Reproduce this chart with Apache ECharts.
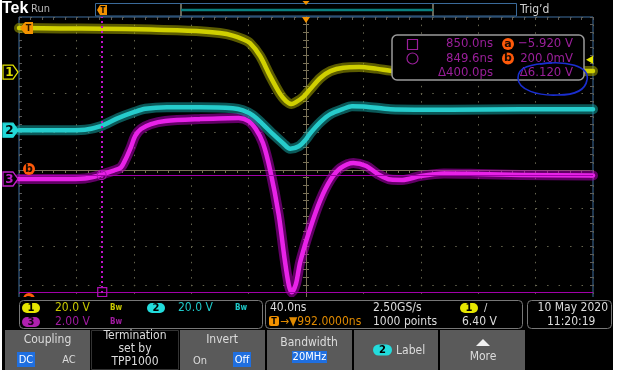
<!DOCTYPE html>
<html><head><meta charset="utf-8">
<script src="https://cdn.jsdelivr.net/npm/echarts@6/dist/echarts.min.js"></script>
<style>html,body{margin:0;padding:0;background:#fff;}#c{width:619px;height:375px;}</style>
</head><body><div id="c"></div>
<script>
// ---------------- data ----------------
const horizPosNs = 992;            // horizontal position at screen centre (ns)
const timePerDivNs = 40;           // 40.0 ns/div
const chScale = [20, 20, 2];       // V/div for channels 1,2,3
const chPos = [2.56, 1.04, -0.235];// channel ground markers (divisions from centre)

const ch1Times = [792,821,849,884,918,932,941,948,953,960,967,974,978,982,985,990,995,1002,1009,1018,1029,1041,1054,1093,1142,1192];
const ch1Volts = [23.0,22.8,22.7,22.2,21.4,20.4,19.1,17.2,15.1,8.4,-2.1,-11.5,-15.1,-16.7,-15.7,-13.1,-8.9,-3.1,0.5,2.3,2.6,1.8,0.5,0.3,0.5,0.5];

const ch2Times = [792,821,838,849,861,872,880,895,918,941,948,955,962,969,976,981,987,992,995,1002,1009,1018,1024,1034,1051,1093,1142,1192];
const ch2Volts = [0,0,0.3,2.1,6.3,9.4,11.2,12.0,12.0,11.5,10.4,7.8,3.1,-2.1,-6.8,-9.7,-8.4,-4.7,-1.6,4.2,8.4,11.2,12.5,12.3,11.0,10.7,11.0,11.0];

const ch3Times = [792,821,838,845,852,858,863,866,870,873,877,884,894,918,945,952,957,962,967,973,977,980,982,985,988,995,1002,1009,1016,1025,1034,1042,1051,1059,1072,1088,1112,1142,1192];
const ch3Volts = [0,0,0.03,0.13,0.29,0.44,0.60,0.99,1.67,2.25,2.61,2.87,3.03,3.13,3.19,3.03,2.61,1.88,0.47,-1.88,-4.13,-5.54,-5.92,-5.48,-4.33,-2.56,-1.10,-0.05,0.57,0.84,0.68,0.26,-0.03,-0.05,0.16,0.29,0.26,0.21,0.18];

const cursorTimesNs = [850.0, 849.6];   // square, circle
const cursorVolts = [-5.920, 0.200];    // a, b (channel 3)
const triggerLevelV = 6.40;             // channel 1

const cursorTimeTexts = ['850.0ns', '849.6ns', '\u0394400.0ps'];
const cursorVoltTexts = ['\u22125.920 V', '200.0mV', '\u03946.120 V'];
const chanScaleTexts = ['20.0 V', '20.0 V', '2.00 V'];
const acqTexts = ['40.0ns', '\u2192\u25BC992.0000ns', '2.50GS/s', '1000 points', '6.40 V'];
const dateTexts = ['10 May 2020', '11:20:19'];
const menuTexts = ['Coupling', 'DC', 'AC', 'Termination', 'set by', 'TPP1000', 'Invert', 'On', 'Off', 'Bandwidth', '20MHz', 'Label', 'More'];

// ---------------- chart ----------------
const FONT = "'Liberation Sans Narrow','DejaVu Sans Condensed','Liberation Sans',sans-serif";
const chart = echarts.init(document.getElementById('c'), null, {renderer: 'canvas'});

function toDiv(times, volts, ch) {
  return times.map((t, i) => [t - horizPosNs, chPos[ch] + volts[i] / chScale[ch]]);
}
const d1 = toDiv(ch1Times, ch1Volts, 0);
const d2 = toDiv(ch2Times, ch2Volts, 1);
const d3 = toDiv(ch3Times, ch3Volts, 2);
const xHalf = timePerDivNs * 5;
const aDiv = chPos[2] + cursorVolts[0] / chScale[2];
const bDiv = chPos[2] + cursorVolts[1] / chScale[2];
const trigDiv = chPos[0] + triggerLevelV / chScale[0];

const TAN = '#7a7258', EDGE = '#5c5c5c';
function xAx(extra) {
  return Object.assign({type: 'value', min: -xHalf, max: xHalf, interval: timePerDivNs,
    axisLabel: {show: false}, splitLine: {show: false}}, extra);
}
function yAx(extra) {
  return Object.assign({type: 'value', min: -4, max: 4, interval: 1,
    axisLabel: {show: false}, splitLine: {show: false}}, extra);
}
const tick = (c, inside) => ({show: true, inside: inside, length: 3, lineStyle: {color: c}});
const mtick = (c) => ({show: true, splitNumber: 5, length: 3, lineStyle: {color: c}});

function lineSeries(data, color, width, opacity, extra) {
  return Object.assign({type: 'line', data: data, smooth: 0.3, showSymbol: false, silent: true,
    xAxisIndex: 0, yAxisIndex: 0,
    lineStyle: {color: color, width: width, opacity: opacity, cap: 'round', join: 'round'}}, extra || {});
}

chart.setOption({
  animation: false,
  backgroundColor: '#000',
  grid: {left: 19, top: 17, width: 574, height: 306, show: true, borderColor: '#3f6f9f', borderWidth: 1, backgroundColor: '#000'},
  xAxis: [
    xAx({position: 'top', axisLine: {show: false, onZero: false}, axisTick: tick(EDGE, true), minorTick: mtick(EDGE),
         splitLine: {show: true, lineStyle: {color: '#66654f', type: [1.5, 6.15], width: 1}}}),
    xAx({position: 'bottom', axisLine: {show: true, onZero: true, onZeroAxisIndex: 0, lineStyle: {color: TAN}}, axisTick: tick(TAN, false), minorTick: mtick(TAN)}),
    xAx({position: 'bottom', axisLine: {show: true, onZero: true, onZeroAxisIndex: 1, lineStyle: {color: TAN}}, axisTick: tick(TAN, false), minorTick: mtick(TAN)})
  ],
  yAxis: [
    yAx({position: 'left', axisLine: {show: false, onZero: false}, axisTick: tick(EDGE, true), minorTick: mtick(EDGE),
         splitLine: {show: true, lineStyle: {color: '#66654f', type: [1.5, 9.98], width: 1}}}),
    yAx({position: 'right', axisLine: {show: false, onZero: false}, axisTick: tick(EDGE, true), minorTick: mtick(EDGE)}),
    yAx({position: 'left', axisLine: {show: true, onZero: true, onZeroAxisIndex: 1, lineStyle: {color: TAN}}, axisTick: tick(TAN, false), minorTick: mtick(TAN)}),
    yAx({position: 'right', axisLine: {show: true, onZero: true, onZeroAxisIndex: 2, lineStyle: {color: TAN}}, axisTick: tick(TAN, false), minorTick: mtick(TAN)})
  ],
  series: [
    lineSeries(d3, '#b000b8', 10, 0.55),
    lineSeries(d3, '#e822e8', 4.5, 1, {
      markLine: {silent: true, symbol: 'none', label: {show: false},
        data: [
          {yAxis: aDiv, lineStyle: {color: '#a000a8', width: 1, type: 'solid'}},
          {yAxis: bDiv, lineStyle: {color: '#a000a8', width: 1, type: 'solid'}},
          {xAxis: cursorTimesNs[0] - horizPosNs, lineStyle: {color: '#c010c8', width: 2, type: [2, 3]}},
          {xAxis: cursorTimesNs[1] - horizPosNs, lineStyle: {color: '#c010c8', width: 2, type: [2, 3]}}
        ]},
      markPoint: {silent: true, label: {show: false},
        data: [
          {coord: [cursorTimesNs[0] - horizPosNs, aDiv], symbol: 'rect', symbolSize: 9, itemStyle: {color: 'transparent', borderColor: '#b010b8', borderWidth: 1.2}},
          {coord: [cursorTimesNs[1] - horizPosNs, bDiv], symbol: 'circle', symbolSize: 9, itemStyle: {color: 'transparent', borderColor: '#b010b8', borderWidth: 1.2}}
        ]}
    }),
    lineSeries(d2, '#14a0a0', 10, 0.55),
    lineSeries(d2, '#26cccc', 4.5, 1),
    lineSeries(d1, '#a8a800', 10, 0.55),
    lineSeries(d1, '#d0d000', 4.5, 1)
  ]
});

// ---------------- scope chrome (graphic) ----------------
const G = [];
const Z = 100;
function T(text, x, y, fill, size, opt) {
  opt = opt || {};
  const al = opt.align || 'left';
  G.push({type: 'text', z: Z, x: x, y: y, silent: true,
    style: {text: text, fill: fill, font: (opt.bold ? 'bold ' : '') + size + 'px ' + (opt.font || FONT),
      align: al, verticalAlign: 'middle', textAlign: al, textVerticalAlign: 'middle'}});
}
function R(x, y, w, h, fill, stroke, r, lw) {
  G.push({type: 'rect', z: Z, silent: true, shape: {x: x, y: y, width: w, height: h, r: r || 0},
    style: {fill: fill || 'none', stroke: stroke || 'none', lineWidth: lw || 1}});
}
function C(cx, cy, r, fill, stroke, lw) {
  G.push({type: 'circle', z: Z, silent: true, shape: {cx: cx, cy: cy, r: r},
    style: {fill: fill || 'none', stroke: stroke || 'none', lineWidth: lw || 1}});
}
function P(points, fill, stroke, lw) {
  G.push({type: 'polygon', z: Z, silent: true, shape: {points: points},
    style: {fill: fill || 'none', stroke: stroke || 'none', lineWidth: lw || 1}});
}
function L(x1, y1, x2, y2, stroke, lw) {
  G.push({type: 'line', z: Z, silent: true, shape: {x1: x1, y1: y1, x2: x2, y2: y2},
    style: {stroke: stroke, lineWidth: lw || 1}});
}
function B(p, stroke, lw) {
  G.push({type: 'bezierCurve', z: Z, silent: true,
    shape: {x1: p[0], y1: p[1], cpx1: p[2], cpy1: p[3], cpx2: p[4], cpy2: p[5], x2: p[6], y2: p[7]},
    style: {stroke: stroke, lineWidth: lw || 1, fill: 'none'}});
}
function pill(x, y, w, h, fill, label, txt) {
  R(x, y, w, h, fill, null, h / 2);
  T(label, x + w / 2, y + h / 2 + 0.5, txt, 10, {bold: true, align: 'center', font: "'DejaVu Sans',sans-serif"});
}
function tag(y, color, label, filled) {
  P([[3, y - 7], [13, y - 7], [18, y], [13, y + 7], [3, y + 7]], filled ? color : '#000', color, 1.3);
  T(label, 9.5, y + 0.5, filled ? '#000' : color, 12, {bold: true, align: 'center', font: "'DejaVu Sans',sans-serif"});
}
function badge(cx, cy, letter) {
  C(cx, cy, 6, '#ff5a0a');
  T(letter, cx, cy, '#1a0a00', 11, {bold: true, align: 'center', font: "'DejaVu Sans',sans-serif"});
}
const px = (t, d) => chart.convertToPixel({xAxisIndex: 0, yAxisIndex: 0}, [t, d]);
const ORANGE = '#f39200';
const PURP = '#9a1f9a';

// top bar
T('Tek', 2, 9, '#ffffff', 16, {bold: true, font: "'Liberation Sans',sans-serif"});
T('Run', 31, 9, '#b8b8b8', 11);
R(95.5, 3.5, 421, 12.5, 'none', '#3a6a9a', 0, 1);
L(181, 4, 181, 16, '#8a8a78', 1.5);
L(433, 4, 433, 16, '#8a8a78', 1.5);
L(181, 10, 433, 10, '#0a8080', 2.5);
P([[97, 10], [100, 5], [107, 5], [107, 15], [100, 15]], ORANGE);
T('T', 103, 10.5, '#000', 8, {bold: true, align: 'center'});
const cx0 = px(0, 0)[0];
P([[cx0 - 3.5, 1], [cx0 + 3.5, 1], [cx0, 5]], ORANGE);
T('Trig\u2019d', 520, 9.5, '#d0d0d0', 12);

// plot markers
P([[cx0 - 4, 17], [cx0 + 4, 17], [cx0, 23]], ORANGE);
tag(px(0, chPos[0])[1], '#e0e000', '1', false);
tag(px(0, chPos[1])[1], '#22d8d8', '2', true);
tag(px(0, chPos[2])[1], '#c020c8', '3', false);
const yT = px(0, chPos[0] + 23.0 / chScale[0])[1];
P([[20, yT], [25, yT - 6], [33, yT - 6], [33, yT + 6], [25, yT + 6]], ORANGE);
T('T', 28.5, yT + 0.5, '#2a1500', 9, {bold: true, align: 'center'});
badge(29, px(0, 0)[1] - 1, 'b');
badge(29, 299, 'a');
const yTrig = px(0, trigDiv)[1];
P([[586, yTrig], [593, yTrig - 4], [593, yTrig + 4]], '#e6e600');

// cursor readout box
R(392, 35, 192, 45, '#000', '#9a9a9a', 5, 1.5);
R(407.5, 39.5, 10, 10, 'none', PURP, 0, 1.2);
C(412.5, 58.5, 5.5, 'none', PURP, 1.2);
T(cursorTimeTexts[0], 493, 44, PURP, 13, {align: 'right'});
T(cursorTimeTexts[1], 493, 58.5, PURP, 13, {align: 'right'});
T(cursorTimeTexts[2], 493, 73, PURP, 13, {align: 'right'});
badge(508, 44, 'a');
badge(508, 58.5, 'b');
T(cursorVoltTexts[0], 573, 44, PURP, 13, {align: 'right'});
T(cursorVoltTexts[1], 573, 58.5, PURP, 13, {align: 'right'});
T(cursorVoltTexts[2], 573, 73, PURP, 13, {align: 'right'});
// hand-drawn blue loop
const BLUE = '#1a2ed0';
B([540, 64, 566, 60, 590, 66, 587, 80], BLUE, 1.6);
B([587, 80, 585, 92, 572, 95, 558, 95], BLUE, 1.6);
B([558, 95, 538, 96, 518, 90, 518, 78], BLUE, 1.6);
B([518, 78, 518, 67, 530, 64, 552, 63], BLUE, 1.6);

// status area
R(2, 297, 611, 73, '#000');
R(19.5, 300.5, 243, 28, '#000', '#777', 4, 1);
pill(22, 303, 18, 10, '#e6e600', '1', '#000');
T(chanScaleTexts[0], 55, 308, '#c8c800', 12);
T('Bw', 110, 308, '#c8c800', 8, {bold: true});
pill(147, 303, 18, 10, '#22dcdc', '2', '#000');
T(chanScaleTexts[1], 178, 308, '#1ec8c8', 12);
T('Bw', 235, 308, '#1ec8c8', 8, {bold: true});
pill(22, 317, 18, 10, '#b020b0', '3', '#1a001a');
T(chanScaleTexts[2], 55, 322, '#a01aa0', 12);
T('Bw', 110, 322, '#a01aa0', 8, {bold: true});

R(265.5, 300.5, 257, 28, '#000', '#777', 4, 1);
T(acqTexts[0], 270, 307.5, '#dddddd', 12);
R(269, 316, 10, 10, ORANGE, null, 2);
T('T', 274, 321.5, '#000', 9, {bold: true, align: 'center'});
T(acqTexts[1], 280, 321.5, '#e08a00', 12);
T(acqTexts[2], 373, 307.5, '#dddddd', 12);
T(acqTexts[3], 373, 321.5, '#dddddd', 12);
pill(460, 303, 18, 10, '#e6e600', '1', '#000');
T('/', 484, 308, '#dddddd', 11);
T(acqTexts[4], 462, 321.5, '#dddddd', 12);

R(527.5, 300.5, 84, 28, '#000', '#777', 4, 1);
T(dateTexts[0], 608, 307.5, '#dddddd', 12, {align: 'right'});
T(dateTexts[1], 547, 321.5, '#dddddd', 12);

// menu buttons
const GRAY = '#5a5a5a', TXT = '#dcdcdc', SEL = '#1f6fe0';
R(5, 330, 85, 40, GRAY);
T(menuTexts[0], 47.5, 340, TXT, 12, {align: 'center'});
R(17, 352, 18, 15, SEL);
T(menuTexts[1], 26, 360, '#fff', 11, {align: 'center'});
T(menuTexts[2], 69, 360, TXT, 11, {align: 'center'});
R(91.5, 330.5, 87, 39, '#000', '#333');
T(menuTexts[3], 135, 336, TXT, 12, {align: 'center'});
T(menuTexts[4], 135, 349, TXT, 12, {align: 'center'});
T(menuTexts[5], 135, 362, TXT, 12, {align: 'center'});
R(180, 330, 85, 40, GRAY);
T(menuTexts[6], 222, 340, TXT, 12, {align: 'center'});
T(menuTexts[7], 200, 361, TXT, 11, {align: 'center'});
R(233, 352, 18, 15, SEL);
T(menuTexts[8], 242, 360, '#fff', 11, {align: 'center'});
R(267, 330, 85, 40, GRAY);
T(menuTexts[9], 309, 343, TXT, 12, {align: 'center'});
R(292, 351, 35, 12, SEL);
T(menuTexts[10], 309.5, 357.5, '#fff', 11, {align: 'center'});
R(354, 330, 84, 40, GRAY);
pill(373, 344.5, 19, 11, '#22dcdc', '2', '#000');
T(menuTexts[11], 396, 350.5, TXT, 12);
R(440, 330, 85, 40, GRAY);
P([[476, 346], [483, 339], [490, 346]], '#f0f0f0');
T(menuTexts[12], 483, 357, TXT, 12, {align: 'center'});

// white margins of the screenshot
R(613, 0, 6, 375, '#fff');
R(0, 370, 619, 5, '#fff');
R(0, 0, 2, 375, '#fff');

chart.setOption({graphic: {elements: G}});
</script></body></html>
